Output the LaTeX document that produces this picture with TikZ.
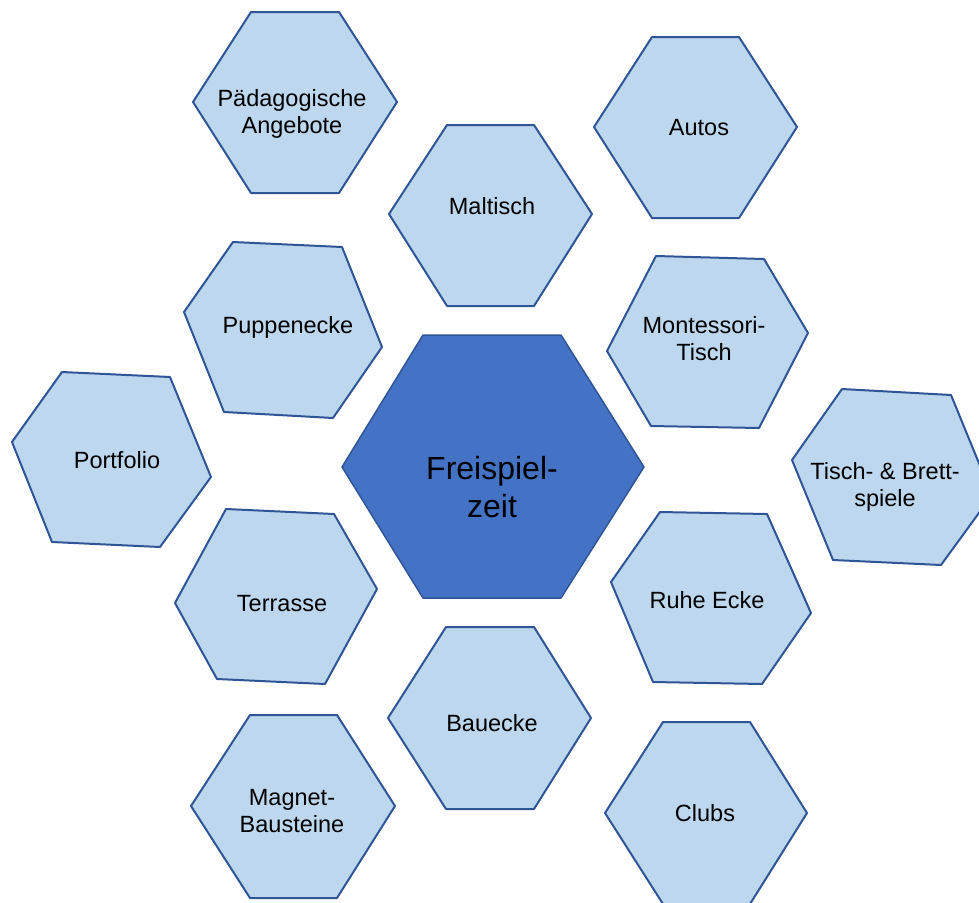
\documentclass[tikz,border=0pt]{standalone}
\usepackage{fontspec}
\setmainfont{Liberation Sans}
\definecolor{hexfill}{RGB}{189,215,238}
\definecolor{hexline}{RGB}{47,85,151}
\definecolor{mainfill}{RGB}{68,114,196}
\tikzstyle{hexa} = [draw=hexline, line width=2pt, fill=hexfill, line join=round]
\tikzstyle{hexmain} = [draw=hexline, line width=1.5pt, fill=mainfill, line join=round]
\tikzstyle{hextext} = [align=center, inner sep=0pt, font=\fontsize{23.5}{27}\selectfont]
\tikzstyle{maintext} = [align=center, inner sep=0pt, font=\fontsize{32}{38}\selectfont]

\begin{document}
\begin{tikzpicture}[x=1pt, y=-1pt]
\useasboundingbox (0,0) rectangle (979,902);

% centre
\draw [hexmain] (423,335) -- (561,335) -- (644,467) -- (561,598) -- (423,598) -- (342,467) -- cycle;
\node (frei) [maintext] at (492,487) {Freispiel-\\zeit};

% left column
\draw [hexa] (251,12) -- (339,12) -- (397,102) -- (339,193) -- (251,193) -- (193,102) -- cycle;
\node (paed) [hextext] at (292,114) {Pädagogische\\Angebote};
\draw [hexa] (233,242) -- (342,247) -- (382,347) -- (333,418) -- (224,412) -- (184,312) -- cycle;
\node (puppe) [hextext] at (288,327) {Puppenecke};
\draw [hexa] (62,372) -- (170,377) -- (211,477) -- (160,547) -- (52,542) -- (12,442) -- cycle;
\node (portf) [hextext] at (117,460) {Portfolio};
\draw [hexa] (226,509) -- (334,514) -- (377,589) -- (325,684) -- (217,679) -- (175,603) -- cycle;
\node (terr) [hextext] at (282,604) {Terrasse};
\draw [hexa] (250,715) -- (337,715) -- (395,806) -- (337,898) -- (250,898) -- (191,806) -- cycle;
\node (magnet) [hextext] at (292,811) {Magnet-\\Bausteine};

% middle column
\draw [hexa] (447,125) -- (534,125) -- (592,214) -- (534,306) -- (447,306) -- (389,214) -- cycle;
\node (mal) [hextext] at (492,206) {Maltisch};
\draw [hexa] (446,627) -- (534,627) -- (591,718) -- (534,809) -- (446,809) -- (388,718) -- cycle;
\node (bau) [hextext] at (492,723) {Bauecke};

% right column
\draw [hexa] (652,37) -- (739,37) -- (797,127) -- (739,218) -- (652,218) -- (594,127) -- cycle;
\node (autos) [hextext] at (699,128) {Autos};
\draw [hexa] (656,256) -- (764,259) -- (808,333) -- (759,428) -- (651,426) -- (607,351) -- cycle;
\node (monte) [hextext] at (704,339) {Montessori-\\Tisch};
\draw [hexa] (842,389) -- (951,395) -- (992,495) -- (941,565) -- (833,560) -- (792,460) -- cycle;
\node (brett) [hextext] at (885,487) {Tisch- \& Brett-\\spiele};
\draw [hexa] (660,512) -- (767,514) -- (811,613) -- (762,684) -- (653,682) -- (611,582) -- cycle;
\node (ruhe) [hextext] at (707,600) {Ruhe Ecke};
\draw [hexa] (663,722) -- (750,722) -- (807,813) -- (750,904) -- (663,904) -- (605,813) -- cycle;
\node (clubs) [hextext] at (705,813) {Clubs};

\end{tikzpicture}
\end{document}
